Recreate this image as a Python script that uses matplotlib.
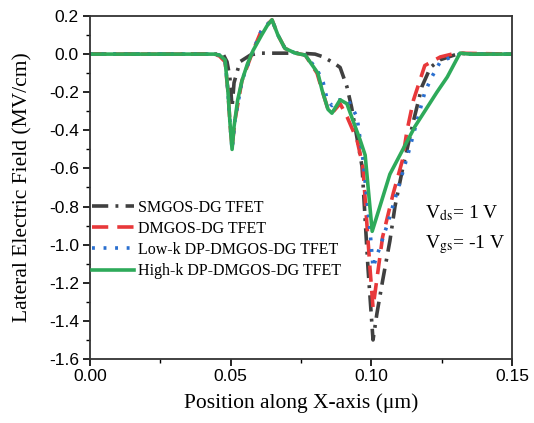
import matplotlib
matplotlib.use("Agg")
import matplotlib.pyplot as plt

plt.rcParams["mathtext.fontset"] = "stix"

# ---- data (x in um, field in MV/cm) ----
x_sm = [0, 0.044, 0.0473, 0.0487, 0.0497, 0.0505, 0.0512, 0.0533, 0.057, 0.06, 0.075, 0.08,
        0.083, 0.087, 0.0889, 0.0913, 0.093, 0.0967, 0.0988, 0.1006, 0.102, 0.104, 0.1066,
        0.1084, 0.111, 0.115, 0.118, 0.121, 0.1244, 0.1315, 0.135, 0.15]
y_sm = [0, 0, 0, -0.04, -0.12, -0.28, -0.15, -0.04, -0.005, 0.005, 0.005, 0.0,
        -0.015, -0.05, -0.07, -0.17, -0.28, -0.59, -1.12, -1.50, -1.36, -1.19, -0.98,
        -0.80, -0.61, -0.35, -0.17, -0.07, -0.03, 0.005, 0, 0]

x_dm = [0, 0.044, 0.046, 0.048, 0.049, 0.0498, 0.0505, 0.0515, 0.054, 0.058, 0.061, 0.0647,
        0.0668, 0.0693, 0.073, 0.0765, 0.0807, 0.0825, 0.0846, 0.086, 0.0889, 0.0914, 0.0949,
        0.097, 0.0995, 0.1006, 0.104, 0.1078, 0.111, 0.1127, 0.115, 0.119, 0.1245, 0.130, 0.15]
y_dm = [0, 0, -0.01, -0.04, -0.19, -0.37, -0.49, -0.35, -0.14, 0.02, 0.126, 0.18,
        0.10, 0.03, 0.005, -0.005, -0.10, -0.19, -0.29, -0.31, -0.26, -0.33, -0.45,
        -0.59, -1.12, -1.33, -0.96, -0.73, -0.56, -0.40, -0.24, -0.06, -0.015, 0.005, 0]

x_lk = [0, 0.044, 0.046, 0.048, 0.049, 0.0498, 0.0505, 0.0515, 0.054, 0.058, 0.061, 0.0647,
        0.0668, 0.0693, 0.073, 0.0765, 0.0807, 0.0829, 0.0843, 0.086, 0.0878, 0.0917, 0.0949,
        0.097, 0.0995, 0.1006, 0.104, 0.106, 0.108, 0.110, 0.1137, 0.117, 0.119, 0.1215,
        0.1245, 0.130, 0.132, 0.15]
y_lk = [0, 0, -0.005, -0.03, -0.19, -0.37, -0.50, -0.35, -0.14, 0.02, 0.126, 0.18,
        0.10, 0.03, 0.005, -0.005, -0.08, -0.15, -0.24, -0.27, -0.24, -0.24, -0.33,
        -0.55, -0.92, -1.12, -0.97, -0.88, -0.78, -0.68, -0.49, -0.31, -0.20, -0.12,
        -0.04, -0.005, 0, 0]

x_hk = [0, 0.044, 0.046, 0.048, 0.049, 0.0498, 0.0505, 0.0512, 0.0525, 0.054, 0.056, 0.058,
        0.061, 0.063, 0.0647, 0.0668, 0.0693, 0.073, 0.0765, 0.081, 0.0825, 0.0846, 0.086,
        0.0889, 0.0913, 0.094, 0.096, 0.0978, 0.1003, 0.1066, 0.1155, 0.1233, 0.127, 0.1315,
        0.135, 0.15]
y_hk = [0, 0, -0.005, -0.03, -0.19, -0.37, -0.50, -0.38, -0.24, -0.14, -0.05, 0.02,
        0.10, 0.15, 0.18, 0.10, 0.03, 0.005, -0.005, -0.10, -0.19, -0.29, -0.31,
        -0.24, -0.26, -0.37, -0.45, -0.53, -0.93, -0.63, -0.38, -0.20, -0.12, 0.005,
        0, 0]

labels = ["SMGOS-DG TFET", "DMGOS-DG TFET", "Low-k DP-DMGOS-DG TFET", "High-k DP-DMGOS-DG TFET"]
xticks = [0.00, 0.05, 0.10, 0.15]
yticks = [0.2, 0.0, -0.2, -0.4, -0.6, -0.8, -1.0, -1.2, -1.4, -1.6]

serif = ["Liberation Serif", "DejaVu Serif"]
sans = ["Liberation Sans", "DejaVu Sans"]

fig = plt.figure(figsize=(5.34, 4.23), dpi=100)
ax = fig.add_axes([90/534, 1-359/423, 422/534, 343/423])

lw = 2.6
ax.plot(x_sm, y_sm, color="#404040", lw=lw, dashes=(4.5, 2, 0.8, 2), label=labels[0])
ax.plot(x_dm, y_dm, color="#e8383a", lw=lw, dashes=(4.5, 2.5), label=labels[1])
ax.plot(x_lk, y_lk, color="#2a6fcf", lw=lw, dashes=(0.8, 2.4), label=labels[2])
ax.plot(x_hk, y_hk, color="#2eaa5a", lw=lw, label=labels[3])

ax.set_xlim(0, 0.15)
ax.set_ylim(-1.6, 0.2)
ax.set_xticks(xticks)
ax.set_xticklabels([f"{t:.2f}" for t in xticks], family=sans, fontsize=12.5)
ax.set_yticks(yticks)
ax.set_yticklabels([f"{t:.1f}" for t in yticks], family=sans, fontsize=12.5)
ax.set_xticks([0.025, 0.075, 0.125], minor=True)
ax.set_yticks([0.1 - 0.2*i for i in range(9)], minor=True)
ax.tick_params(which="major", direction="out", length=5, width=1.2, pad=2)
ax.tick_params(axis="y", which="major", pad=3)
ax.tick_params(which="minor", direction="out", length=3, width=1.0)
for s in ax.spines.values():
    s.set_linewidth(1.3)
    s.set_color("#333333")

ax.set_xlabel("Position along X-axis (μm)", family=serif, fontsize=15.5, labelpad=7)
ax.set_ylabel("Lateral Electric Field (MV/cm)", family=serif, fontsize=15.5, labelpad=12)

leg = ax.legend(loc="upper left", bbox_to_anchor=(0.005, 0.465), frameon=False,
                prop={"family": serif, "size": 11.5}, handlelength=2.6, handletextpad=0.3,
                labelspacing=0.33, borderpad=0, borderaxespad=0)

ax.text(0.795, 0.425, "V$_{\\mathrm{ds}}$= 1 V", transform=ax.transAxes, family=serif,
        fontsize=14, va="center", ha="left")
ax.text(0.795, 0.335, "V$_{\\mathrm{gs}}$= -1 V", transform=ax.transAxes, family=serif,
        fontsize=14, va="center", ha="left")

fig.savefig("out.png", dpi=100)
